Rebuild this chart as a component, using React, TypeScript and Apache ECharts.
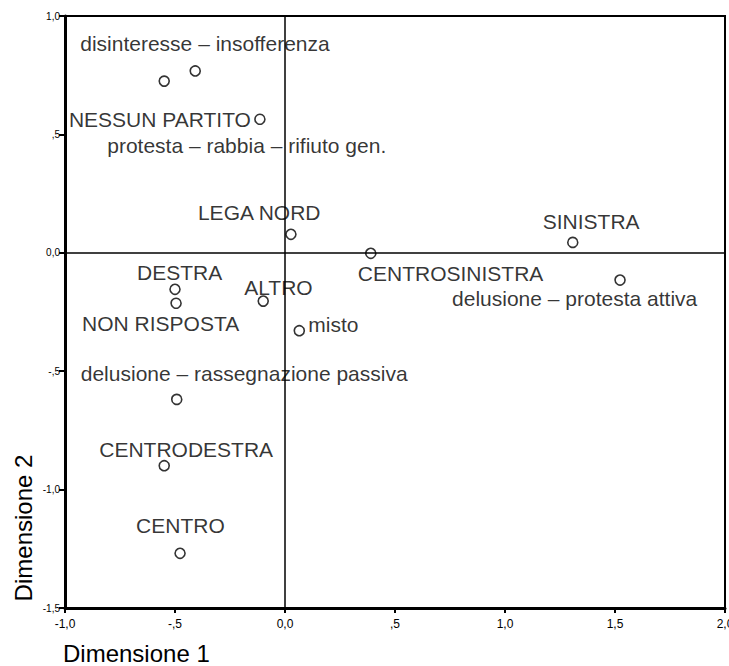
import React, { useEffect, useRef } from "react";
import * as echarts from "echarts";

const pointNames = [
  "disinteresse – insofferenza",
  "protesta – rabbia – rifiuto gen.",
  "NESSUN PARTITO",
  "LEGA NORD",
  "CENTROSINISTRA",
  "SINISTRA",
  "delusione – protesta attiva",
  "DESTRA",
  "NON RISPOSTA",
  "ALTRO",
  "misto",
  "delusione – rassegnazione passiva",
  "CENTRODESTRA",
  "CENTRO",
];
const dim1 = [-0.408, -0.549, -0.114, 0.027, 0.39, 1.308, 1.523, -0.5, -0.495, -0.099, 0.065, -0.492, -0.549, -0.477];
const dim2 = [0.768, 0.725, 0.564, 0.078, -0.002, 0.044, -0.115, -0.154, -0.213, -0.204, -0.329, -0.619, -0.899, -1.269];

const xTickLabels = ["-1,0", "-,5", "0,0", ",5", "1,0", "1,5", "2,0"];
const yTickLabels = ["-1,5", "-1,0", "-,5", "0,0", ",5", "1,0"];

// label placement (layout only): offset of label's left edge / vertical centre from the point, px
const labelOffsets = [
  [-115, -27], [-57, 64], [-191, 0], [-93, -22], [-13, 20], [-30, -21], [-168, 18],
  [-38, -17], [-94, 20], [-19, -14], [9, -6], [-96, -26], [-65, -16], [-44, -28],
];

const FONT = "'Liberation Sans', Arial, sans-serif";

export default function App() {
  const ref = useRef<HTMLDivElement>(null);
  useEffect(() => {
    if (!ref.current) return;
    document.body.style.margin = "0";
    const chart = echarts.init(ref.current, undefined, { renderer: "svg", width: 729, height: 666 });
    const data = pointNames.map((n, i) => ({
      name: n,
      value: [dim1[i], dim2[i]],
      label: { offset: labelOffsets[i] },
    }));
    chart.setOption({
      animation: false,
      backgroundColor: "#fff",
      textStyle: { fontFamily: FONT },
      grid: {
        left: 65,
        right: 4,
        top: 16,
        bottom: 58,
        containLabel: false,
        outerBoundsMode: "none",
        show: true,
        borderColor: "#000",
        borderWidth: 2,
        backgroundColor: "transparent",
      },
      xAxis: {
        type: "value",
        min: -1,
        max: 2,
        interval: 0.5,
        axisLine: { show: true, onZero: false, lineStyle: { color: "#000", width: 3 } },
        axisTick: { show: true, length: 5, lineStyle: { color: "#000", width: 2 } },
        axisLabel: {
          color: "#000",
          fontSize: 12,
          fontFamily: FONT,
          margin: 10,
          showMaxLabel: true,
          formatter: (v: number) => xTickLabels[Math.round((v + 1) / 0.5)] ?? "",
        },
        splitLine: { show: false },
      },
      yAxis: {
        type: "value",
        min: -1.5,
        max: 1,
        interval: 0.5,
        axisLine: { show: true, onZero: false, lineStyle: { color: "#000", width: 3 } },
        axisTick: { show: true, length: 6, lineStyle: { color: "#000", width: 2 } },
        axisLabel: {
          color: "#000",
          fontSize: 10,
          fontFamily: FONT,
          margin: 5,
          formatter: (v: number) => yTickLabels[Math.round((v + 1.5) / 0.5)] ?? "",
        },
        splitLine: { show: false },
      },
      series: [
        {
          type: "scatter",
          data,
          symbol: "circle",
          symbolSize: 10,
          itemStyle: { color: "rgba(255,255,255,0)", borderColor: "#000", borderWidth: 1.6 },
          label: {
            show: true,
            position: "inside",
            align: "left",
            verticalAlign: "middle",
            formatter: "{b}",
            color: "#000",
            fontSize: 21,
            fontFamily: FONT,
          },
          markLine: {
            silent: true,
            symbol: "none",
            label: { show: false },
            lineStyle: { color: "#000", width: 1.5, type: "solid" },
            data: [{ xAxis: 0 }, { yAxis: 0 }],
          },
          z: 3,
        },
      ],
      graphic: [
        {
          type: "text",
          left: 63,
          top: 641,
          style: { text: "Dimensione 1", font: `24px ${FONT}`, fill: "#000" },
        },
        {
          type: "text",
          x: 23,
          y: 528,
          rotation: Math.PI / 2,
          style: { text: "Dimensione 2", font: `24px ${FONT}`, fill: "#000", align: "center", verticalAlign: "middle" },
        },
      ],
    });
    return () => chart.dispose();
  }, []);
  return <div ref={ref} style={{ position: "fixed", left: 0, top: 0, width: 729, height: 666 }} />;
}
